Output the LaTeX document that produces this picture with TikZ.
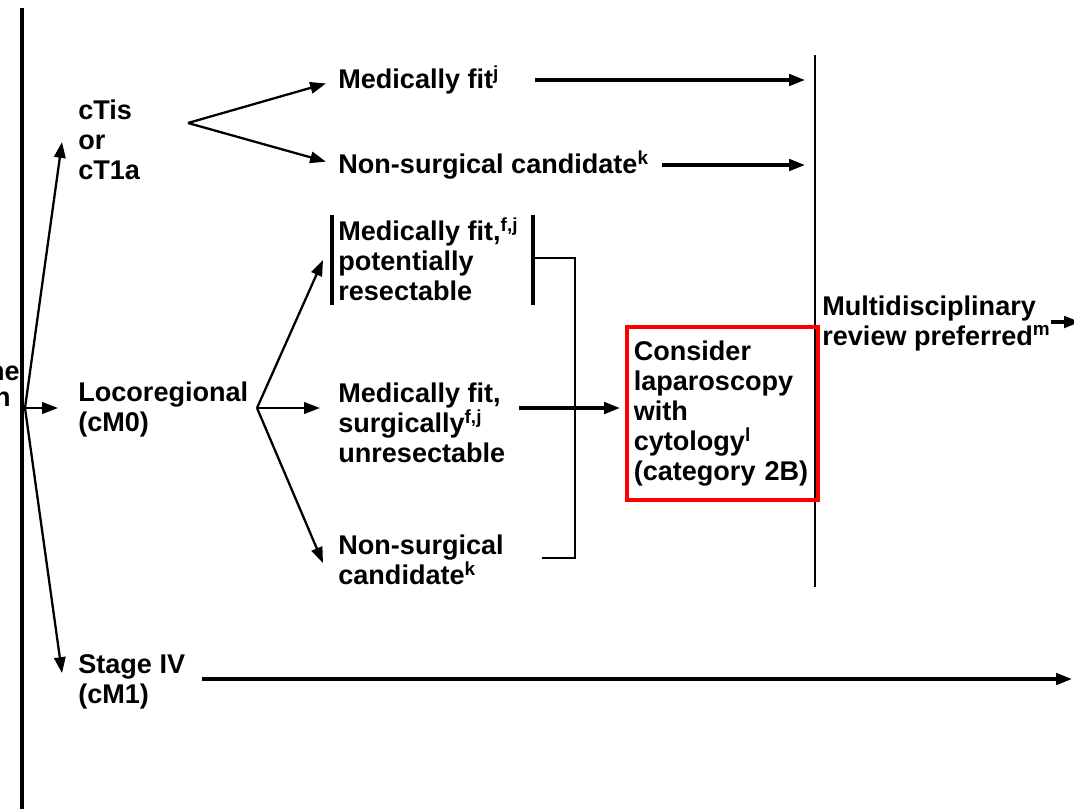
\documentclass[tikz,border=0pt]{standalone}
\usepackage{fontspec}
\setmainfont{Liberation Sans}
\usetikzlibrary{arrows.meta,positioning,calc}

\begin{document}
\begin{tikzpicture}[x=0.02cm, y=-0.02cm,
    every node/.style={font=\fontsize{15.4}{17.07}\selectfont\bfseries},
    txt/.style={anchor=west, align=left, inner sep=0pt},
    arr/.style={-{Triangle[length=9pt,width=6.5pt]}, line width=1.9pt},
    thinarr/.style={-{Triangle[length=9pt,width=6.5pt]}, line width=1.3pt},
    bar/.style={line width=2pt}]
    \useasboundingbox (0,0) rectangle (1074,809);
    % Left spine with the clipped heading
    \draw[line width=2.3pt] (22,8) -- (22,809);
    \node[anchor=east, inner sep=0pt] (hd1) at (20,371) {he};
    \node[anchor=east, inner sep=0pt] (hd2) at (11,399) {n};
    % Stage nodes off the spine
    \coordinate (root) at (25,408);
    \node[txt] (ctis) at (78,140) {cTis\\or\\cT1a};
    \node[txt] (loco) at (78,409) {Locoregional\\(cM0)};
    \node[txt] (stage) at (78,682) {Stage IV\\(cM1)};
    \coordinate (t1) at (62,142);
    \coordinate (t3) at (62,673);
    \draw[thinarr] (root) -- (t1);
    \draw[thinarr, shorten >=0.4cm] (root) -- (root -| loco.west);
    \draw[thinarr] (root) -- (t3);
    % cTis / cT1a branch
    \coordinate (f1) at (188,123);
    \node[txt] (fit1) at (338,80) {Medically fit\textsuperscript{j}};
    \node[txt] (nsc1) at (338,165) {Non-surgical candidate\textsuperscript{k}};
    \draw[thinarr, shorten >=0.25cm] (f1) -- (fit1.west);
    \draw[thinarr, shorten >=0.25cm] (f1) -- (nsc1.west);
    % Review line
    \coordinate (rt) at (815,55);
    \coordinate (rb) at (815,587);
    \draw[line width=1.3pt] (rt) -- (rb);
    \draw[arr, shorten <=0.7cm, shorten >=0.2cm] (fit1.east) -- (fit1.east -| rt);
    \draw[arr, shorten <=0.25cm, shorten >=0.2cm] (nsc1.east) -- (nsc1.east -| rt);
    % Locoregional branch
    \coordinate (f2) at (257,408);
    \node[txt] (fit2) at (338,259) {Medically fit,\textsuperscript{f,j}\\potentially\\resectable};
    \node[txt] (fit3) at (338,423) {Medically fit,\\surgically\textsuperscript{f,j}\\unresectable};
    \node[txt] (nsc2) at (338,560) {Non-surgical\\candidate\textsuperscript{k}};
    \coordinate (t4) at (323,260);
    \coordinate (t6) at (323,563);
    \draw[thinarr] (f2) -- (t4);
    \draw[thinarr, shorten >=0.36cm] (f2) -- (f2 -| fit3.west);
    \draw[thinarr] (f2) -- (t6);
    % Bars round the resectable group
    \draw[bar] (332,215) -- (332,305);
    \draw[bar] (533,215) -- (533,305);
    % Join into laparoscopy
    \coordinate (j1) at (533,258);
    \coordinate (j2) at (575,258);
    \coordinate (j3) at (575,558);
    \coordinate (j4) at (542,558);
    \draw[line width=1.5pt] (j1) -- (j2) -- (j3) -- (j4);
    \node[draw=red, line width=2.3pt, outer sep=0pt, anchor=north west,
          minimum width=3.82cm, minimum height=3.46cm, text width=3.55cm,
          inner xsep=0.135cm, align=left] (lap) at (627,327)
          {Consider\\laparoscopy\\with\\cytology\textsuperscript{l}\\(category 2B)};
    \draw[arr, shorten <=0.26cm, shorten >=0.14cm] (fit3.east |- f2) -- (lap.west |- f2);
    % Multidisciplinary review
    \node[txt] (mdr) at (822,323) {Multidisciplinary\\review preferred\textsuperscript{m}};
    \coordinate (out1) at (1080,322);
    \draw[arr] (mdr.east |- out1) -- (out1);
    % Stage IV straight across
    \coordinate (out2) at (1072,679);
    \draw[arr, shorten <=0.34cm] (stage.east |- out2) -- (out2);
\end{tikzpicture}
\end{document}
